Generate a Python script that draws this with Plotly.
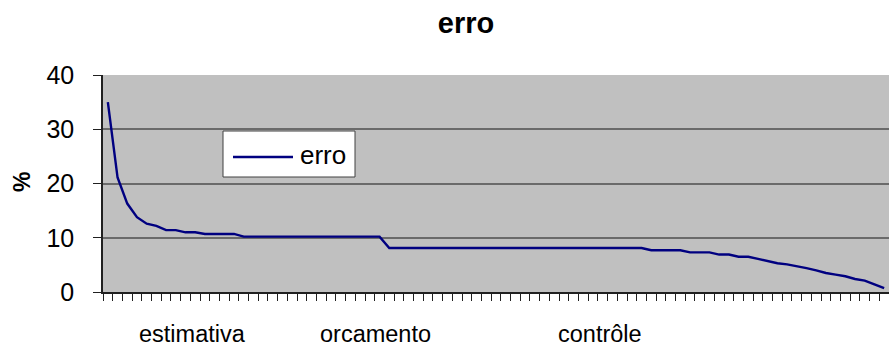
import plotly.graph_objects as go

# Error (%) per item, in sorted order
erro = [
    35.0, 21.1, 16.3, 13.8, 12.6, 12.2, 11.4, 11.4, 11.0, 11.0,
    10.7, 10.7, 10.7, 10.7,
    10.2, 10.2, 10.2, 10.2, 10.2, 10.2, 10.2, 10.2, 10.2, 10.2,
    10.2, 10.2, 10.2, 10.2, 10.2,
    8.1, 8.1, 8.1, 8.1, 8.1, 8.1, 8.1, 8.1, 8.1, 8.1,
    8.1, 8.1, 8.1, 8.1, 8.1, 8.1, 8.1, 8.1, 8.1, 8.1,
    8.1, 8.1, 8.1, 8.1, 8.1, 8.1, 8.1,
    7.7, 7.7, 7.7, 7.7,
    7.3, 7.3, 7.3,
    6.9, 6.9,
    6.5, 6.5,
    6.1, 5.7, 5.3, 5.1, 4.8, 4.4, 4.0, 3.5, 3.2, 2.9, 2.4, 2.1, 1.4, 0.7,
]
items = list(range(len(erro)))

# Phase labels and the item they sit under
phase_labels = ["estimativa", "orcamento", "contrôle"]
phase_pos = [8.7, 27.6, 50.7]

y_ticks = [0, 10, 20, 30, 40]

W, H = 889, 346
ML, MR, MT, MB = 103, 0, 75, 54
PW, PH = W - ML - MR, H - MT - MB


def px(x):
    return (x - ML) / PW


def py(y):
    return (H - MB - y) / PH


FONT = "Liberation Sans, Arial, sans-serif"

fig = go.Figure()
fig.add_trace(go.Scatter(
    x=items, y=erro, mode="lines", name="erro",
    line=dict(color="#000080", width=2.4),
    showlegend=False,
))

# Legend box drawn as shapes + text
fig.add_shape(type="rect", xref="paper", yref="paper",
              x0=px(223), x1=px(355), y0=py(177), y1=py(131),
              fillcolor="white", line=dict(color="#404040", width=1))
fig.add_shape(type="line", xref="paper", yref="paper",
              x0=px(233), x1=px(293), y0=py(157), y1=py(157),
              line=dict(color="#000080", width=2.4))
fig.add_annotation(xref="paper", yref="paper", x=px(298), y=py(155),
                   text="erro", showarrow=False, xanchor="left", yanchor="middle",
                   font=dict(family=FONT, size=26, color="black"))

for lab, pos in zip(phase_labels, phase_pos):
    fig.add_annotation(x=pos, xref="x", yref="paper", y=py(334),
                       text=lab, showarrow=False, xanchor="center", yanchor="middle",
                       font=dict(family=FONT, size=23.5, color="black"))

# Rotated y-axis title
fig.add_annotation(xref="paper", yref="paper", x=px(22), y=py(182),
                   text="<b>%</b>", showarrow=False, textangle=-90,
                   xanchor="center", yanchor="middle",
                   font=dict(family=FONT, size=23, color="black"))

fig.update_layout(
    width=W, height=H,
    margin=dict(l=ML, r=MR, t=MT, b=MB, pad=0),
    paper_bgcolor="white",
    plot_bgcolor="#C0C0C0",
    title=dict(text="<b>erro</b>", x=466 / W, xref="container", xanchor="center",
               y=1 - 23 / H, yanchor="middle", yref="container",
               font=dict(family=FONT, size=29, color="black")),
    xaxis=dict(
        range=[-0.5, len(erro) - 0.5],
        tickmode="array",
        tickvals=[i - 0.5 for i in range(len(erro) + 1)],
        showticklabels=False,
        ticks="outside", ticklen=7, tickwidth=1.2, tickcolor="#202020",
        showgrid=False, zeroline=False,
        showline=True, linecolor="#202020", linewidth=1.5,
    ),
    yaxis=dict(
        range=[0, 40],
        tickmode="array", tickvals=y_ticks,
        ticks="outside", ticklen=8, tickwidth=1.2, tickcolor="#202020",
        ticklabelstandoff=14,
        tickfont=dict(family=FONT, size=25, color="black"),
        showgrid=True, gridcolor="#6a6a6a", gridwidth=1.5,
        zeroline=False,
        showline=True, linecolor="#202020", linewidth=1.5,
    ),
)

fig.write_html("out.html")
